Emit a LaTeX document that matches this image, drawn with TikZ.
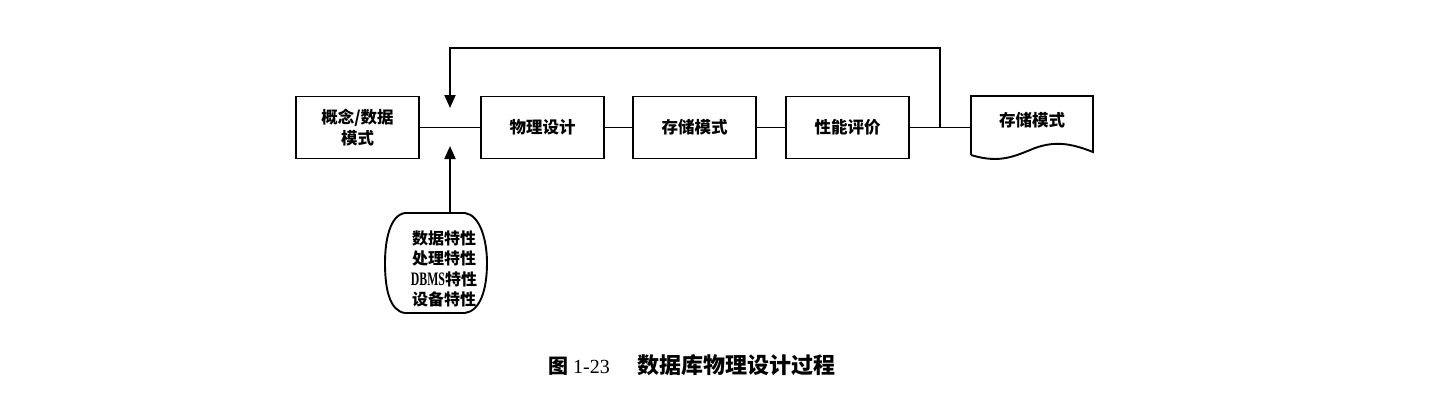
\documentclass[tikz,border=0pt]{standalone}
\usepackage{fontspec}
\setmainfont{Liberation Serif}
\newfontfamily\cjk{Noto Sans CJK SC}
\newfontfamily\latn[FakeStretch=0.62]{Liberation Serif}
\usetikzlibrary{arrows.meta}
\begin{document}
\begin{tikzpicture}[x=1pt,y=-1pt,
  ln/.style={line width=1.9pt},
  tx/.style={font=\cjk\bfseries\fontsize{16.5}{21}\selectfont,align=center},
  procbox/.style={draw,line width=1.9pt,minimum width=123pt,minimum height=62pt,inner sep=0pt,tx},
  arr/.style={ln,-{Triangle[length=13pt,width=11pt]}}]
\useasboundingbox (0,0) rectangle (1434,416);
\node[procbox] (cm) at (357.5,127.5) {概念/数据\\模式};
\node[procbox] (pd) at (542.5,127.5) {物理设计};
\node[procbox] (sm) at (694.5,127.5) {存储模式};
\node[procbox] (pe) at (847.5,127.5) {性能评价};
% document shape
\node[tx,inner sep=0pt] (doc) at (1032,120) {存储模式};
\draw[ln] (971,155) -- (971,96) -- (1093,96) -- (1093,152)
  .. controls (1070,143) and (1055,141) .. (1035,148)
  .. controls (1015,156) and (1000,164) .. (971,155);
\coordinate (docw) at (971,127.5);
% blob
\node[tx,font=\cjk\bfseries\fontsize{16}{20.5}\selectfont,inner sep=0pt] (blob) at (444,269) {数据特性\\处理特性\\{\latn\bfseries\fontsize{19}{20.5}\selectfont DBMS}特性\\设备特性};
\draw[ln] (405,213) -- (465,213) .. controls (480,215) and (487,240) .. (487,263)
  .. controls (487,290) and (480,311) .. (465,313) -- (405,313)
  .. controls (390,311) and (385,290) .. (385,263)
  .. controls (385,240) and (390,215) .. (405,213) -- cycle;
\coordinate (blobtop) at (450,213);
% connectors
\draw[ln] (cm.east) -- (pd.west);
\draw[ln] (pd.east) -- (sm.west);
\draw[ln] (sm.east) -- (pe.west);
\draw[ln] (pe.east) -- (docw);
\coordinate (fb) at (940,127.5);
\coordinate (tipT) at (450,108);
\coordinate (tipB) at (450,146);
\draw[arr] (fb) -- (940,48) -- (450,48) -- (tipT);
\draw[arr] (blobtop) -- (tipB);
% caption
\node[font=\fontsize{20}{24}\selectfont,anchor=west,inner sep=0pt] (cap) at (548,365) {{\cjk\bfseries 图} 1-23\hspace{28pt}{\cjk\bfseries\fontsize{22}{24}\selectfont 数据库物理设计过程}};
\end{tikzpicture}
\end{document}
